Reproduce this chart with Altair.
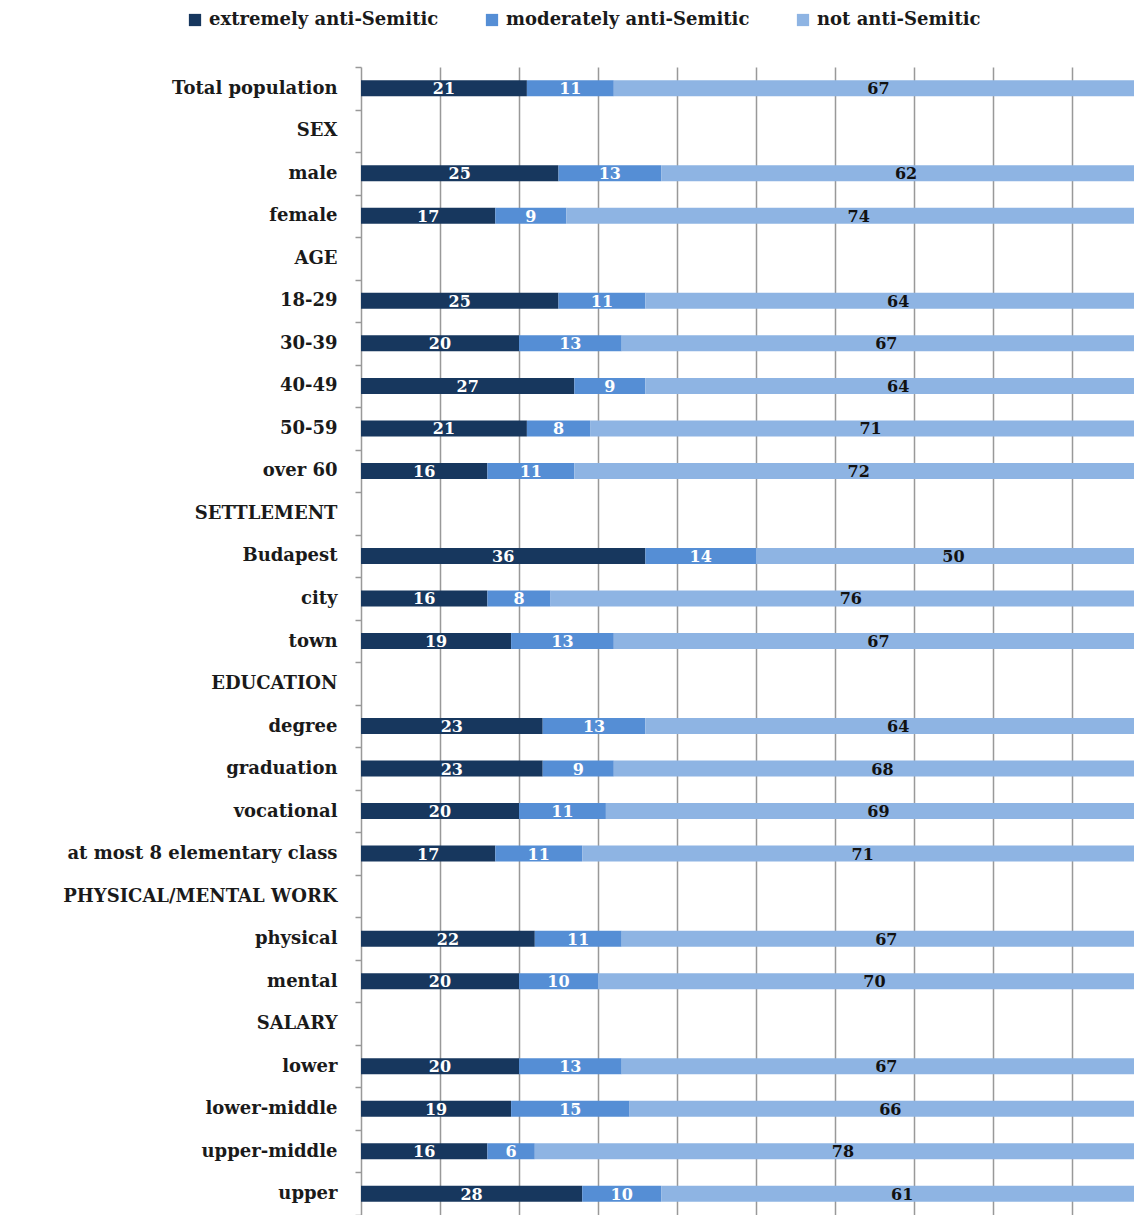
import altair as alt
import pandas as pd

row_order = ["Total population", "SEX", "male", "female", "AGE", "18-29", "30-39",
             "40-49", "50-59", "over 60", "SETTLEMENT", "Budapest", "city", "town",
             "EDUCATION", "degree", "graduation", "vocational",
             "at most 8 elementary  class", "PHYSICAL/MENTAL WORK", "physical",
             "mental", "SALARY", "lower", "lower-middle", "upper-middle", "upper"]

categories = ["Total population", "male", "female", "18-29", "30-39", "40-49",
              "50-59", "over 60", "Budapest", "city", "town", "degree", "graduation",
              "vocational", "at most 8 elementary  class", "physical", "mental",
              "lower", "lower-middle", "upper-middle", "upper"]
extreme = [21, 25, 17, 25, 20, 27, 21, 16, 36, 16, 19, 23, 23, 20, 17, 22, 20, 20, 19, 16, 28]
moderate = [11, 13, 9, 11, 13, 9, 8, 11, 14, 8, 13, 13, 9, 11, 11, 11, 10, 13, 15, 6, 10]
not_anti = [67, 62, 74, 64, 67, 64, 71, 72, 50, 76, 67, 64, 68, 69, 71, 67, 70, 67, 66, 78, 61]

series = ["extremely anti-Semitic", "moderately anti-Semitic", "not anti-Semitic"]
colors = ["#17375E", "#558ED5", "#8EB4E3"]

recs = []
for i, c in enumerate(categories):
    for k, (s, v) in enumerate(zip(series, [extreme[i], moderate[i], not_anti[i]])):
        recs.append({"cat": c, "series": s, "order": k, "value": v})
df = pd.DataFrame(recs)

FONT = "DejaVu Serif"

base = alt.Chart(df).transform_stack(
    stack="value", as_=["x0", "x1"], groupby=["cat"], sort=[alt.SortField("order")]
).transform_calculate(mid="(datum.x0 + datum.x1) / 2")

y_enc = alt.Y("cat:N", sort=row_order,
              scale=alt.Scale(domain=row_order, paddingInner=0, paddingOuter=0),
              axis=alt.Axis(title=None, labelFont=FONT, labelFontSize=18,
                            labelFontWeight="bold", labelColor="#1a1a1a",
                            labelPadding=18, tickSize=6, tickColor="#999999",
                            tickWidth=1.5, domainColor="#999999", domainWidth=1.5,
                            tickBand="extent", labelLimit=400, grid=False))

xscale = alt.Scale(domain=[0, 97.85], nice=False, zero=False)

bars = base.mark_bar(size=16, clip=True).encode(
    x=alt.X("x0:Q", scale=xscale,
            axis=alt.Axis(title=None, labels=False, ticks=False, domain=False,
                          grid=True, gridColor="#999999", gridWidth=1.5,
                          values=[10, 20, 30, 40, 50, 60, 70, 80, 90])),
    x2="x1:Q",
    y=y_enc,
    color=alt.Color("series:N", scale=alt.Scale(domain=series, range=colors),
                    legend=alt.Legend(title=None, orient="none", direction="horizontal",
                                      columns=3, legendX=-175, legendY=-56, padding=0,
                                      symbolType="square", symbolSize=150,
                                      symbolStrokeWidth=0, labelFont=FONT,
                                      labelFontSize=18, labelFontWeight="bold",
                                      labelColor="#1a1a1a", labelOffset=5,
                                      columnPadding=44, labelLimit=400)),
    order=alt.Order("order:Q"),
)

labels = base.mark_text(font=FONT, fontSize=16, fontWeight="bold", baseline="middle",
                        align="center", dy=1).encode(
    x=alt.X("mid:Q", scale=xscale),
    y=alt.Y("cat:N", sort=row_order),
    text=alt.Text("value:Q"),
    color=alt.condition(alt.datum.series == "not anti-Semitic",
                        alt.value("#111111"), alt.value("white")),
)

chart = alt.layer(bars, labels).properties(
    width=773, height=1148,
    autosize=alt.AutoSizeParams(type="none"),
    padding={"left": 361, "top": 67, "right": 0, "bottom": 0},
).configure_view(stroke=None)

chart.save("out.html", embed_options={"renderer": "svg", "actions": False})
